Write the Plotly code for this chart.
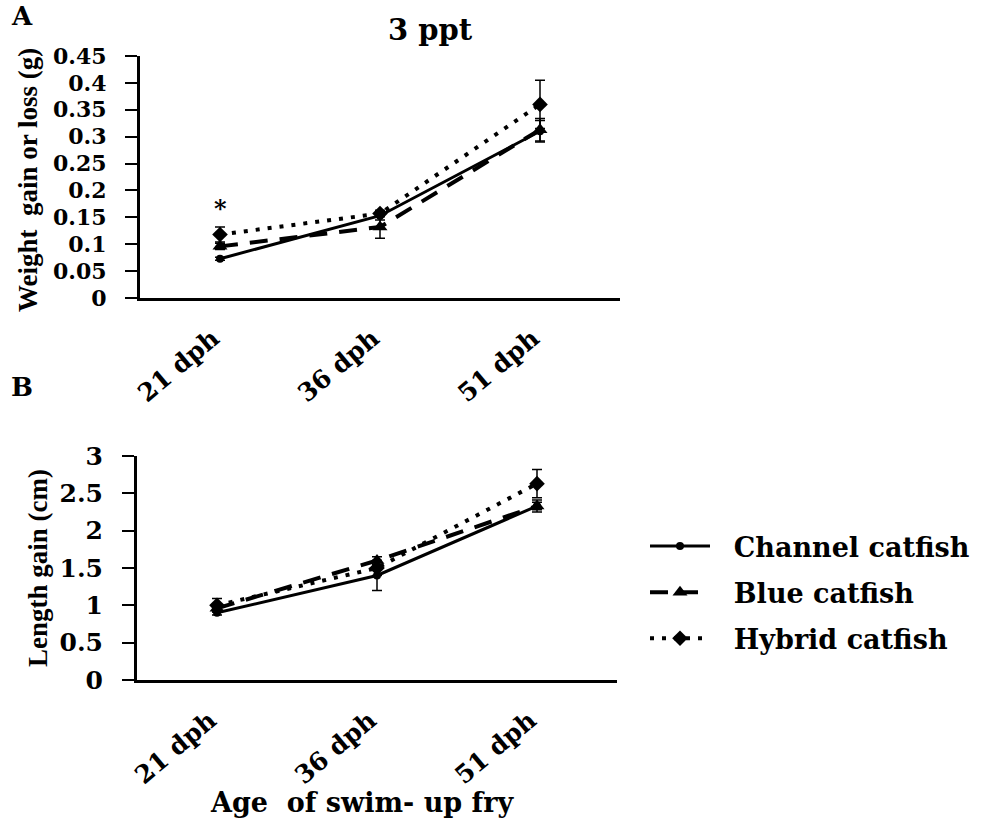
import plotly.graph_objects as go

# ---------------- data ----------------
ages = ["21 dph", "36 dph", "51 dph"]
series_names = ["Channel catfish", "Blue catfish", "Hybrid catfish"]

# Panel A: weight gain (g)
weight_channel = [0.073, 0.153, 0.310]
weight_blue = [0.096, 0.132, 0.313]
weight_hybrid = [0.118, 0.157, 0.360]
weight_channel_err = [0.003, 0.008, 0.020]
weight_blue_err = [0.006, 0.021, 0.021]
weight_hybrid_err = [0.014, 0.006, 0.045]

# Panel B: length gain (cm)
length_channel = [0.90, 1.40, 2.33]
length_blue = [0.96, 1.60, 2.33]
length_hybrid = [1.00, 1.50, 2.63]
length_channel_err = [0.03, 0.20, 0.05]
length_blue_err = [0.05, 0.05, 0.08]
length_hybrid_err = [0.09, 0.10, 0.19]

weight_ticks = [0, 0.05, 0.1, 0.15, 0.2, 0.25, 0.3, 0.35, 0.4, 0.45]
weight_ticktext = ["0", "0.05", "0.1", "0.15", "0.2", "0.25", "0.3", "0.35", "0.4", "0.45"]
length_ticks = [0, 0.5, 1, 1.5, 2, 2.5, 3]
length_ticktext = ["0", "0.5", "1", "1.5", "2", "2.5", "3"]

# ---------------- styling ----------------
FW, FH = 990, 824
SERIF = "DejaVu Serif"
TIMES = "Liberation Serif"

styles = [
    dict(dash="solid", width=3, symbol="circle", size=8),
    dict(dash="18px,12px", width=4, symbol="triangle-up", size=13),
    dict(dash="4px,8px", width=4, symbol="diamond", size=12),
]

def px_x(v):
    return v / FW

def px_y(v):
    return 1 - v / FH

fig = go.Figure()

panelA = [(weight_channel, weight_channel_err), (weight_blue, weight_blue_err), (weight_hybrid, weight_hybrid_err)]
panelB = [(length_channel, length_channel_err), (length_blue, length_blue_err), (length_hybrid, length_hybrid_err)]

for i, (vals, errs) in enumerate(panelA):
    st = styles[i]
    fig.add_trace(go.Scatter(
        x=ages, y=vals, name="\u00a0\u00a0" + series_names[i], mode="lines+markers",
        line=dict(color="black", width=st["width"], dash=st["dash"]),
        marker=dict(symbol=st["symbol"], size=st["size"], color="black"),
        error_y=dict(type="data", array=errs, color="black", thickness=1.5, width=5),
        xaxis="x", yaxis="y", showlegend=False, legendgroup=f"g{i}",
    ))

for i, (vals, errs) in enumerate(panelB):
    st = styles[i]
    fig.add_trace(go.Scatter(
        x=ages, y=vals, name="\u00a0\u00a0" + series_names[i], mode="lines+markers",
        line=dict(color="black", width=st["width"], dash=st["dash"]),
        marker=dict(symbol=st["symbol"], size=st["size"], color="black"),
        error_y=dict(type="data", array=errs, color="black", thickness=1.5, width=5),
        xaxis="x2", yaxis="y2", showlegend=True, legendgroup=f"g{i}",
    ))

xcommon = dict(
    type="category", range=[-0.5, 2.5], showline=True, linecolor="black", linewidth=3,
    ticks="outside", ticklen=13, tickcolor="rgba(0,0,0,0)", tickangle=-40, ticklabelshift=-7,
    tickfont=dict(family=SERIF, size=25, color="black", weight="bold"),
    showgrid=False, zeroline=False, automargin=False,
)
ycommon = dict(
    showline=True, linecolor="black", linewidth=3, ticks="outside", ticklen=12, tickwidth=2,
    tickcolor="black", showgrid=False, zeroline=False, automargin=False, ticklabelstandoff=14,
)

fig.update_layout(
    width=FW, height=FH, margin=dict(l=0, r=0, t=0, b=0),
    paper_bgcolor="white", plot_bgcolor="white",
    xaxis=dict(domain=[px_x(140), px_x(620)], anchor="y", **xcommon),
    yaxis=dict(domain=[px_y(298), px_y(56)], anchor="x", range=[0, 0.45],
               tickvals=weight_ticks, ticktext=weight_ticktext,
               tickfont=dict(family=SERIF, size=22, color="black", weight="bold"), **ycommon),
    xaxis2=dict(domain=[px_x(137), px_x(617)], anchor="y2", **xcommon),
    yaxis2=dict(domain=[px_y(680), px_y(456)], anchor="x2", range=[0, 3],
                tickvals=length_ticks, ticktext=length_ticktext,
                tickfont=dict(family=SERIF, size=25, color="black", weight="bold"), **ycommon),
    legend=dict(x=px_x(645), y=px_y(522), xanchor="left", yanchor="top",
                font=dict(family=SERIF, size=27, color="black", weight="bold"),
                itemwidth=60, tracegroupgap=8, bgcolor="rgba(0,0,0,0)"),
    showlegend=True,
)

def ann(text, x, y, size, family=SERIF, angle=0, **kw):
    fig.add_annotation(text=text, x=x, y=y, xref="paper", yref="paper", showarrow=False,
                       textangle=angle, xanchor="center", yanchor="middle",
                       font=dict(family=family, size=size, color="black", weight="bold"), **kw)

ann("A", px_x(22), px_y(16), 26)
ann("B", px_x(22), px_y(387), 26)
ann("3 ppt", px_x(430), px_y(30), 29)
ann("Weight\u00a0 gain or loss (g)", px_x(28), px_y(180), 27, family=TIMES, angle=-90)
ann("Length gain (cm)", px_x(38), px_y(568), 27, family=TIMES, angle=-90)
ann("Age\u00a0 of swim- up fry", px_x(362), px_y(802), 27)

fig.add_annotation(text="*", x=ages[0], y=weight_hybrid[0] + weight_hybrid_err[0], xref="x", yref="y",
                   showarrow=False, yanchor="bottom", yshift=2,
                   font=dict(family=SERIF, size=24, color="black", weight="bold"))

# remove the default 8px page margin so the 990x824 figure fills the window exactly
fig.write_html("out.html", config={"displayModeBar": False},
               post_script="document.body.style.margin='0';document.body.style.overflow='hidden';")
